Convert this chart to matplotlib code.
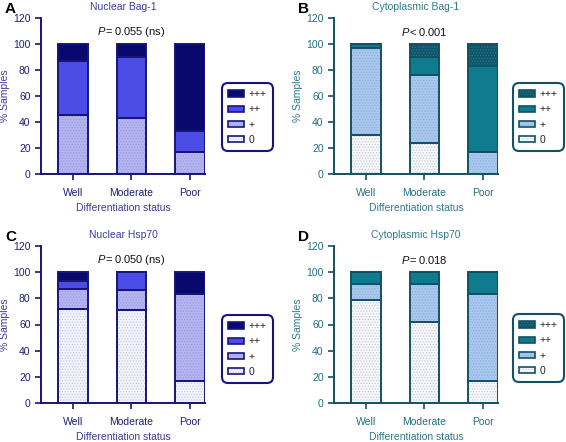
import numpy as np
import matplotlib
matplotlib.use('Agg')
import matplotlib.pyplot as plt
import matplotlib.patches as mpatches
from matplotlib.legend_handler import HandlerTuple

plt.rcParams.update({
    'font.family': 'Liberation Sans',
    'font.size': 7,
    'mathtext.fontset': 'custom',
    'mathtext.rm': 'Liberation Sans',
    'mathtext.it': 'Liberation Sans:italic',
    'hatch.linewidth': 0.6,
})

# categories and scores
groups = ['Well', 'Moderate', 'Poor']
levels = ['0', '+', '++', '+++']

# % samples per level (0, +, ++, +++) for Well / Moderate / Poor
bag1_nuc_0 = [0, 0, 0]
bag1_nuc_1 = [45, 43, 17]
bag1_nuc_2 = [42, 47, 16]
bag1_nuc_3 = [13, 10, 67]

bag1_cyt_0 = [30, 24, 0]
bag1_cyt_1 = [67, 52, 17]
bag1_cyt_2 = [3, 14, 66]
bag1_cyt_3 = [0, 10, 17]

hsp_nuc_0 = [72, 71, 17]
hsp_nuc_1 = [15, 15, 66]
hsp_nuc_2 = [6, 14, 0]
hsp_nuc_3 = [7, 0, 17]

hsp_cyt_0 = [79, 62, 17]
hsp_cyt_1 = [12, 29, 66]
hsp_cyt_2 = [9, 9, 17]
hsp_cyt_3 = [0, 0, 0]

titles = ['Nuclear Bag-1', 'Cytoplasmic Bag-1', 'Nuclear Hsp70', 'Cytoplasmic Hsp70']
pvals = [r'$\mathit{P}$$\,$=$\,$0.055 (ns)', r'$\mathit{P}$$\,$<$\,$0.001',
         r'$\mathit{P}$$\,$=$\,$0.050 (ns)', r'$\mathit{P}$$\,$=$\,$0.018']
letters = ['A', 'B', 'C', 'D']

blue = {'fills': ['#f3f3fb', '#b4b4f2', '#4b4be6', '#08086e'],
        'hatch': ['#c9c9e6', '#9c9cdc', '#5c5cec', '#08086e'],
        'edge': '#16167a', 'text': '#1e1e7c', 'title': '#3c3c9c'}
teal = {'fills': ['#f7f8fb', '#aac7ee', '#0f7b8f', '#0e5669'],
        'hatch': ['#c8ccd6', '#8fb2e0', '#0f7b8f', '#2a7386'],
        'edge': '#125262', 'text': '#23707f', 'title': '#2f7a8a'}

panels = [
    ([bag1_nuc_0, bag1_nuc_1, bag1_nuc_2, bag1_nuc_3], blue),
    ([bag1_cyt_0, bag1_cyt_1, bag1_cyt_2, bag1_cyt_3], teal),
    ([hsp_nuc_0, hsp_nuc_1, hsp_nuc_2, hsp_nuc_3], blue),
    ([hsp_cyt_0, hsp_cyt_1, hsp_cyt_2, hsp_cyt_3], teal),
]

W, H = 566, 442
fig = plt.figure(figsize=(W / 100, H / 100), dpi=100)

# axes boxes in pixels: left, top(120), right, bottom(0)
boxes = [(41, 18, 205, 174), (334, 18, 498, 174),
         (41, 246, 205, 403), (334, 246, 498, 403)]
legend_pos = [(222, 117), (513, 117), (222, 349), (513, 348)]

x = np.arange(len(groups))
width = 0.51
hatches = ['......', '......', '', '......']

for i, (vals, pal) in enumerate(panels):
    l, t, r, b = boxes[i]
    ax = fig.add_axes([l / W, 1 - b / H, (r - l) / W, (b - t) / H])
    bottom = np.zeros(len(groups))
    for k, v in enumerate(vals):
        v = np.array(v, dtype=float)
        ax.bar(x, v, width, bottom=bottom, color=pal['fills'][k],
               edgecolor=pal['hatch'][k], linewidth=0, hatch=hatches[k], zorder=2)
        ax.bar(x, v, width, bottom=bottom, fill=False,
               edgecolor=pal['edge'], linewidth=1.4, zorder=3)
        bottom += v

    ax.set_xlim(-0.55, 2.26)
    ax.set_ylim(0, 120)
    ax.set_yticks(np.arange(0, 121, 20))
    ax.set_xticks(x)
    ax.set_xticklabels(groups)
    for s in ['top', 'right']:
        ax.spines[s].set_visible(False)
    for s in ['left', 'bottom']:
        ax.spines[s].set_color(pal['edge'])
        ax.spines[s].set_linewidth(1.4)
    ax.tick_params(colors=pal['edge'], labelcolor=pal['text'], labelsize=7.5,
                   width=1.2, length=4, direction='out')
    ax.tick_params(axis='x', pad=6)
    ax.set_ylabel('% Samples', color=pal['title'], fontsize=7.5, labelpad=2)
    ax.set_xlabel('Differentiation status', color=pal['title'], fontsize=7.5, labelpad=4)
    ax.set_title(titles[i], color=pal['title'], fontsize=7.5, pad=6)
    ax.text(1, 109, pvals[i], ha='center', va='center', fontsize=8, color='#111111')
    fig.text((l - 36) / W, 1 - (t - 9) / H, letters[i], fontsize=11,
             fontweight='bold', ha='left', va='center')

    handles = []
    for k in range(len(levels))[::-1]:
        fill = mpatches.Patch(facecolor=pal['fills'][k], edgecolor=pal['hatch'][k],
                              hatch=hatches[k], linewidth=0)
        outline = mpatches.Patch(fill=False, edgecolor=pal['edge'], linewidth=1.2)
        handles.append((fill, outline))
    lx, ly = legend_pos[i]
    leg = ax.legend(handles, levels[::-1], loc='center left',
                    handler_map={tuple: HandlerTuple(ndivide=1, pad=0)},
                    bbox_to_anchor=(lx / W, 1 - ly / H), bbox_transform=fig.transFigure,
                    fontsize=7.5, handlelength=1.5, handleheight=0.55, labelspacing=0.5,
                    handletextpad=0.45, borderpad=0.6, borderaxespad=0, fancybox=True,
                    framealpha=1)
    frame = leg.get_frame()
    frame.set_edgecolor(pal['edge'])
    frame.set_linewidth(1.5)
    frame.set_boxstyle('round,pad=0,rounding_size=0.6')
    for txt in leg.get_texts():
        txt.set_color('#222222')

fig.savefig('out.png', dpi=100)
